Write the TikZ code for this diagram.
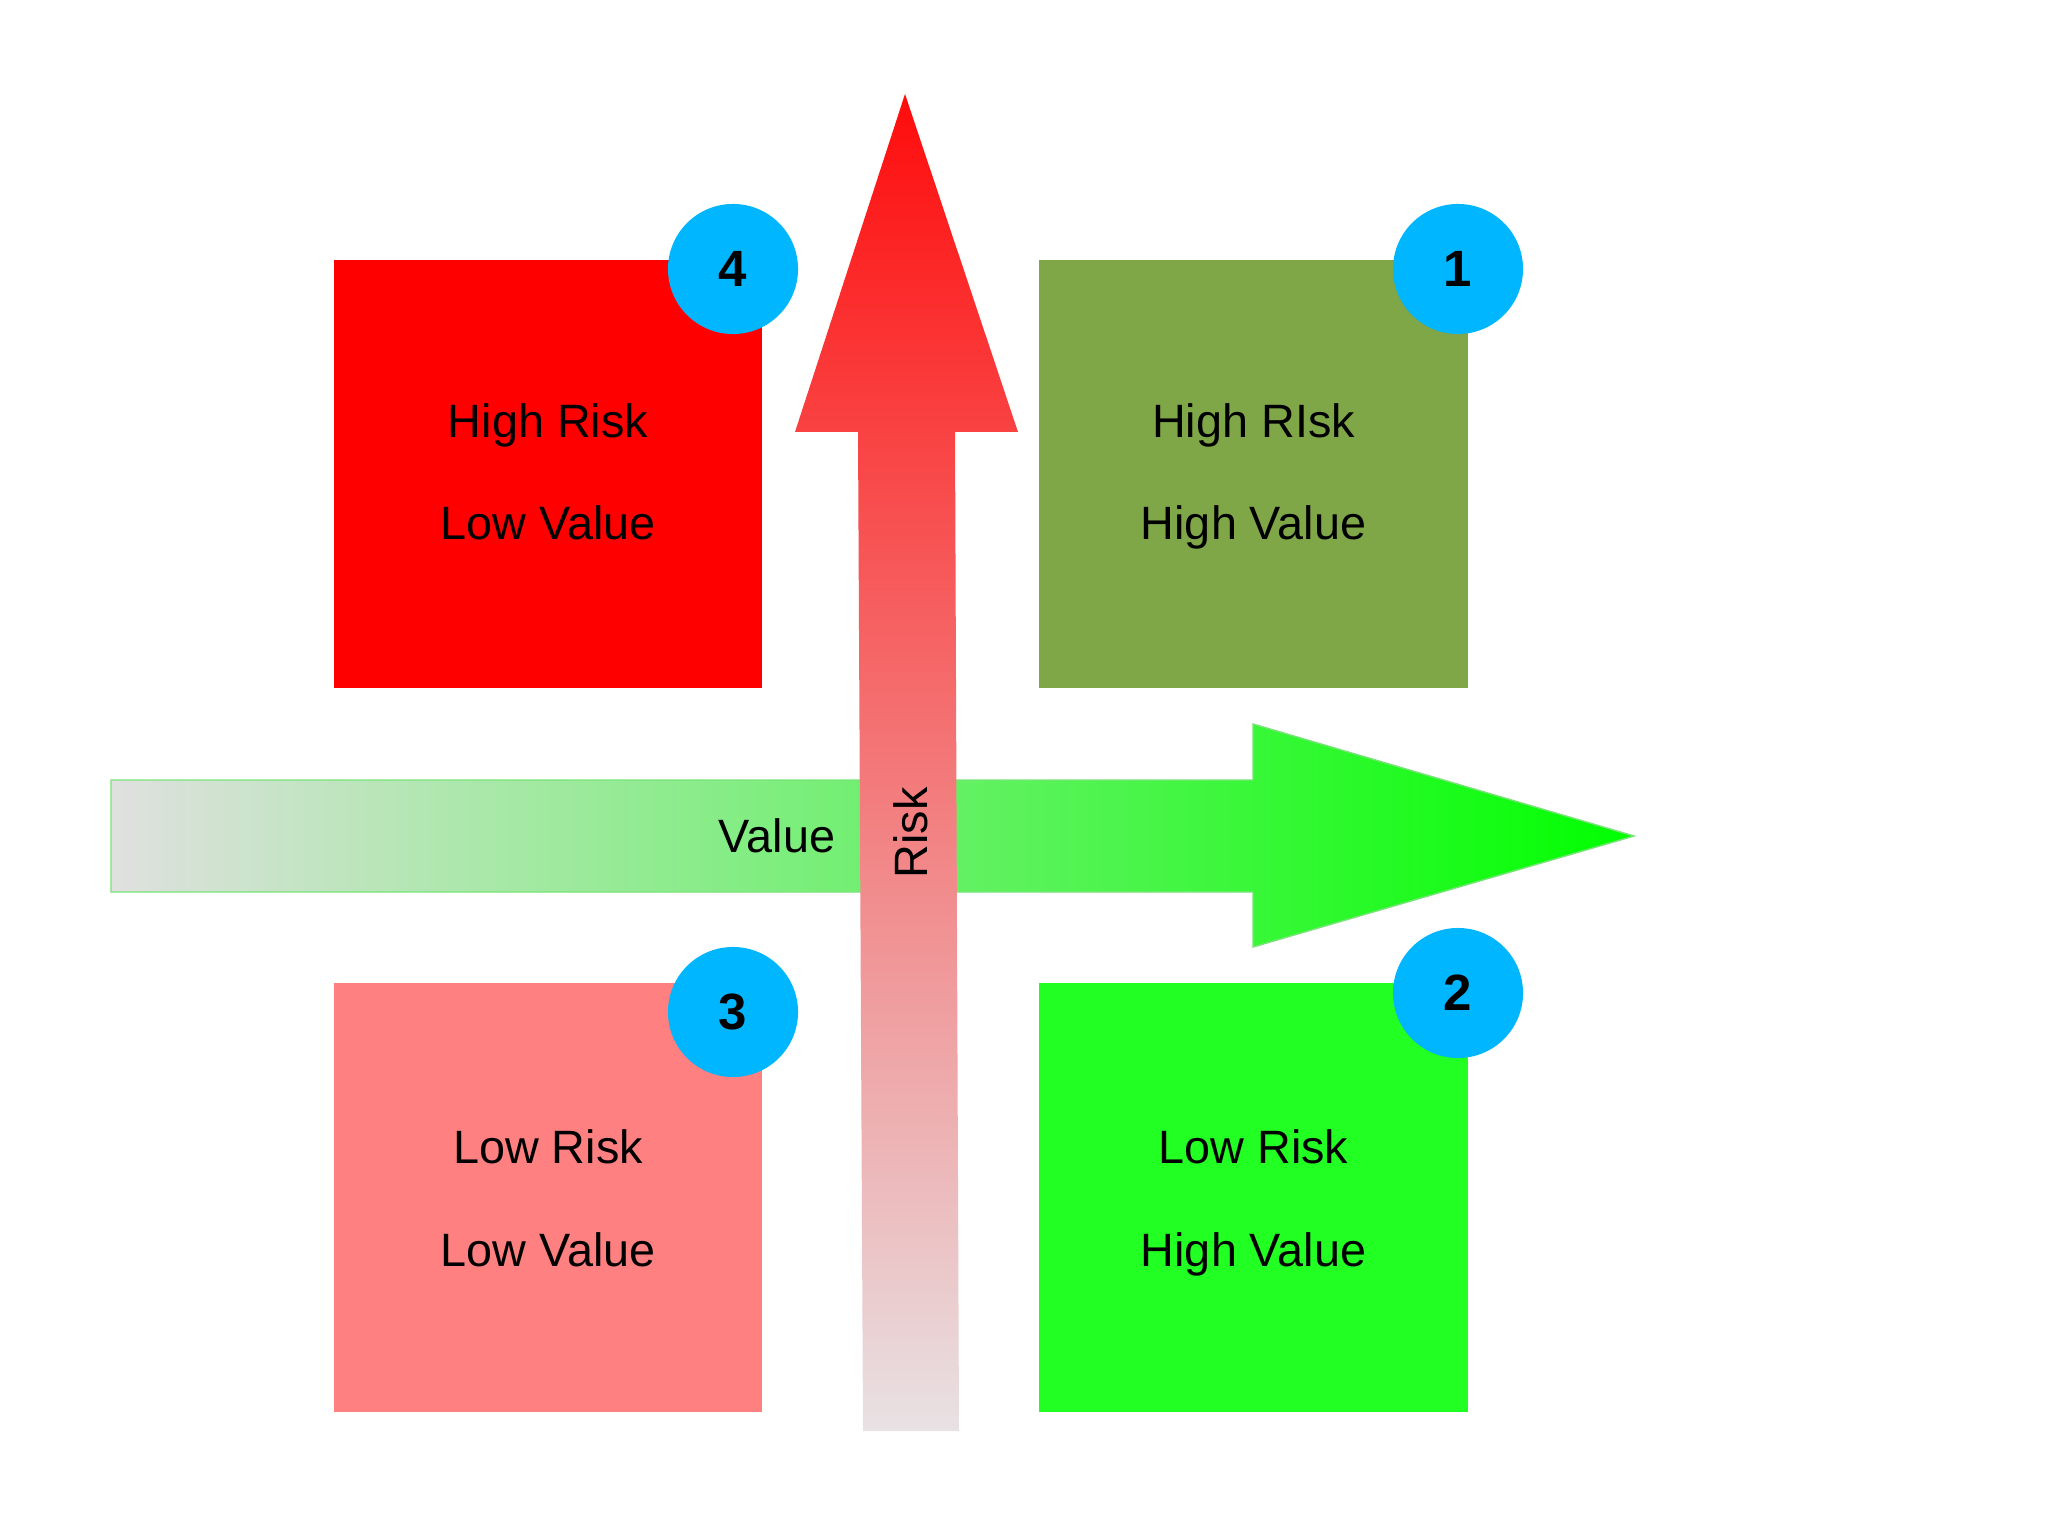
\documentclass[tikz,border=0pt]{standalone}
\usepackage{fontspec}
\setmainfont{Liberation Sans}
\definecolor{sqred}{RGB}{255,0,0}
\definecolor{sqolive}{RGB}{127,166,71}
\definecolor{sqpink}{RGB}{255,128,128}
\definecolor{sqgreen}{RGB}{34,255,34}
\definecolor{badge}{RGB}{0,182,255}
\definecolor{hleft}{RGB}{224,224,224}
\definecolor{hright}{RGB}{0,255,0}
\definecolor{hborder}{RGB}{120,228,120}
\definecolor{vbottom}{RGB}{232,226,228}
\definecolor{vtop}{RGB}{255,12,12}
\begin{document}
\begin{tikzpicture}[x=0.01cm,y=0.01cm,
  quad/.style={rectangle, minimum width=4.28cm, minimum height=4.28cm, inner sep=0pt, draw=none},
  badgestyle/.style={circle, fill=badge, minimum size=1.3cm, inner sep=0pt, font=\fontsize{14.5}{16}\selectfont\bfseries},
  txt/.style={anchor=base, inner sep=0pt, font=\fontsize{13.3}{16}\selectfont}]
\useasboundingbox (0,0) rectangle (2048,1535);
\fill[white] (0,0) rectangle (2048,1535);
% quadrants
\node[quad, fill=sqred]   (q4) at (548,1061) {};
\node[quad, fill=sqolive] (q1) at (1253.5,1061) {};
\node[quad, fill=sqpink]  (q3) at (548,337.5) {};
\node[quad, fill=sqgreen] (q2) at (1253.5,337.5) {};
% value arrow
\path[left color=hleft, right color=hright, draw=hborder, line width=0.4pt]
 (111,755) -- (1253,755) -- (1253,811) -- (1634,699) -- (1253,588) -- (1253,643) -- (111,643) -- cycle;
% risk arrow
\path[bottom color=vbottom, top color=vtop]
 (863,104) -- (858,1103) -- (795,1103) -- (905,1441) -- (1018,1103) -- (955,1103) -- (959,104) -- cycle;
% texts
\node[txt] (t4a) at (548,1097) {High Risk};
\node[txt] (t4b) at (548,995) {Low Value};
\node[txt] (t1a) at (1253.5,1097) {High RIsk};
\node[txt] (t1b) at (1253.5,995) {High Value};
\node[txt] (t3a) at (548,372) {Low Risk};
\node[txt] (t3b) at (548,269) {Low Value};
\node[txt] (t2a) at (1253.5,372) {Low Risk};
\node[txt] (t2b) at (1253.5,269) {High Value};
\node[txt] (val) at (777,683) {Value};
\node[txt, rotate=90] (risk) at (927,702) {Risk};
% badges
\node[badgestyle] (b4) at (733,1266) {4};
\node[badgestyle] (b1) at (1458,1266) {1};
\node[badgestyle] (b3) at (733,523) {3};
\node[badgestyle] (b2) at (1458,542) {2};
\end{tikzpicture}
\end{document}
